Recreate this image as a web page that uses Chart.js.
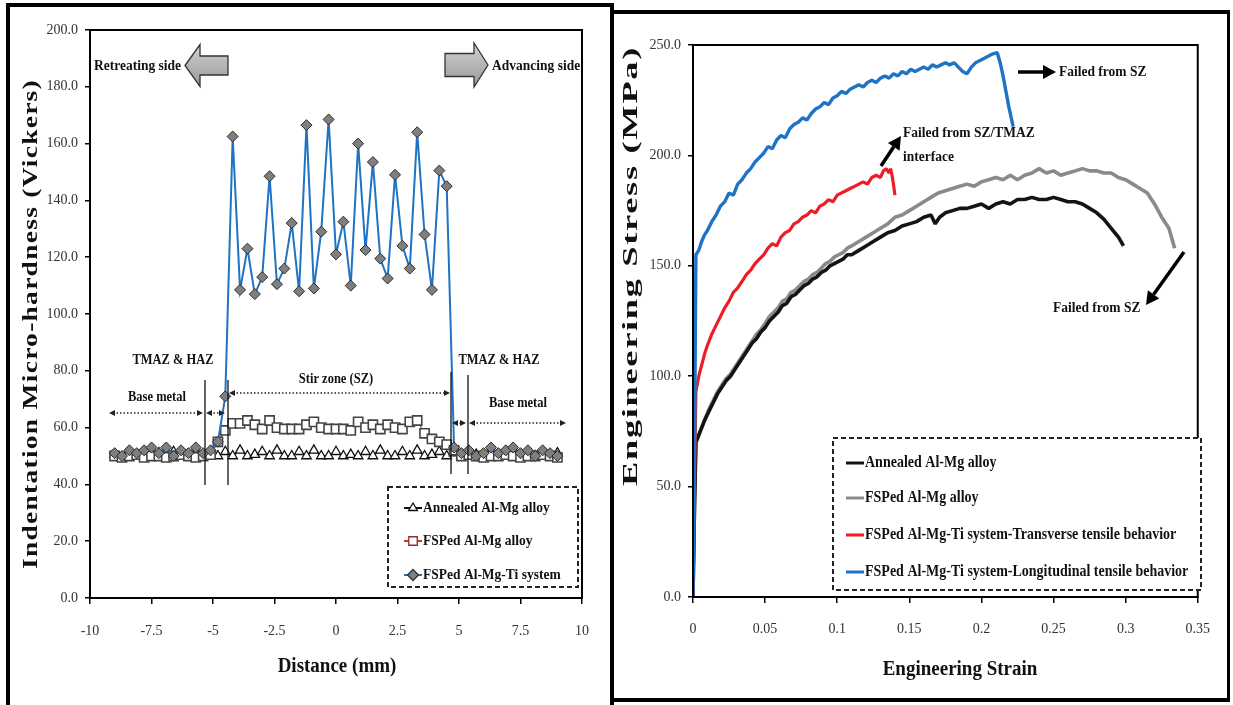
<!DOCTYPE html>
<html>
<head>
<meta charset="utf-8">
<script src="https://cdn.jsdelivr.net/npm/chart.js@4.4.1/dist/chart.umd.min.js"></script>
<style>
  html, body { margin: 0; padding: 0; background: #fff; width: 1233px; height: 705px; overflow: hidden; }
  .frame { position: absolute; box-sizing: border-box; border: 0 solid #000; }
  #frameL { left: 6px; top: 3px; width: 608px; height: 730px; border-left-width: 4px; border-top-width: 4px; border-right-width: 4px; }
  #frameR { left: 614px; top: 10px; width: 616px; height: 692px; border-top-width: 4px; border-bottom-width: 4px; border-right-width: 3px; }
  .box { position: absolute; }
  #boxL { left: 12px; top: 8px; width: 596px; height: 690px; }
  #boxR { left: 616px; top: 14px; width: 612px; height: 684px; }
</style>
</head>
<body>
<div class="frame" id="frameL"></div>
<div class="frame" id="frameR"></div>
<div class="box" id="boxL"><canvas id="hardness-chart"></canvas></div>
<div class="box" id="boxR"><canvas id="tensile-chart"></canvas></div>

<script>
// ------------------------------------------------------------
// Data: micro-hardness profile across the processed zone
// ------------------------------------------------------------
const distance = [-9.0, -8.7, -8.4, -8.1, -7.8, -7.5, -7.2, -6.9, -6.6, -6.3, -6.0, -5.7, -5.4, -5.1,
  -4.8, -4.5, -4.2, -3.9, -3.6, -3.3, -3.0, -2.7, -2.4, -2.1, -1.8, -1.5, -1.2, -0.9, -0.6, -0.3,
  0.0, 0.3, 0.6, 0.9, 1.2, 1.5, 1.8, 2.1, 2.4, 2.7, 3.0, 3.3, 3.6, 3.9, 4.2, 4.5, 4.8,
  5.1, 5.4, 5.7, 6.0, 6.3, 6.6, 6.9, 7.2, 7.5, 7.8, 8.1, 8.4, 8.7, 9.0];

const annealedHardness = [50.5, 49.5, 51, 50, 51.5, 50, 51, 50, 51.5, 50, 50.5, 51, 50, 51,
  50, 51.5, 50, 52, 50, 50.5, 51.5, 50, 52, 50, 50, 51.5, 50, 52, 50, 50, 51.5, 50, 50.5, 50,
  51.5, 50, 52, 50, 50, 51.5, 50, 52, 50, 50.5, 51.5, 50, 51,
  50, 51, 50.5, 50, 51.5, 50, 51, 50.5, 50, 51, 50, 50.5, 50, 51];

const fspHardness = [50, 49.5, 50, 50.5, 49.5, 50, 50, 49.5, 50, 50.5, 50, 49.5, 50, 50.5,
  55, 59, 61.5, 61.5, 62.5, 61, 59.5, 62.5, 60, 59.5, 59.5, 59.5, 61, 62, 60, 59.5, 59.5, 59.5,
  59, 62, 60, 61, 59.5, 61, 60, 59.5, 62, 62.5, 58, 56, 55, 54, 52,
  50, 50.5, 50, 49.5, 50, 50, 50.5, 50, 49.5, 50, 50, 50.5, 50, 49.5];

const tiHardness = [51, 50, 52, 51, 52, 53, 51, 53, 50, 52, 51, 53, 51, 52,
  55, 71, 162.5, 108.5, 123, 107, 113, 148.5, 110.5, 116, 132, 108, 166.5, 109, 129, 168.5,
  121, 132.5, 110, 160, 122.5, 153.5, 119.5, 112.5, 149, 124, 116, 164, 128, 108.5, 150.5, 145, 53,
  51, 52, 50, 51, 53, 51, 52, 53, 51, 52, 50, 52, 51, 50];

const hardnessSeriesNames = ["Annealed Al-Mg alloy", "FSPed Al-Mg alloy", "FSPed Al-Mg-Ti system"];

const distanceTicks = [-10, -7.5, -5, -2.5, 0, 2.5, 5, 7.5, 10];
const distanceTickLabels = ["-10", "-7.5", "-5", "-2.5", "0", "2.5", "5", "7.5", "10"];
const hardnessTicks = [0, 20, 40, 60, 80, 100, 120, 140, 160, 180, 200];
const hardnessTickLabels = ["0.0", "20.0", "40.0", "60.0", "80.0", "100.0", "120.0", "140.0", "160.0", "180.0", "200.0"];

// ------------------------------------------------------------
// Data: engineering stress-strain curves, [strain, stress MPa]
// ------------------------------------------------------------
const longitudinalCurve = [[0, 0], [0.001, 60], [0.002, 155], [0.004, 157], [0.006, 161], [0.008, 164],
  [0.010, 166], [0.013, 170], [0.016, 173], [0.019, 177], [0.022, 179], [0.025, 183], [0.028, 182],
  [0.031, 187], [0.034, 189], [0.037, 192], [0.040, 194], [0.043, 197], [0.046, 199], [0.049, 201],
  [0.052, 204], [0.055, 203], [0.058, 207], [0.061, 209], [0.064, 208], [0.067, 212], [0.070, 214],
  [0.073, 215], [0.076, 217], [0.079, 216], [0.082, 219], [0.085, 221], [0.088, 222], [0.091, 224],
  [0.094, 223], [0.097, 226], [0.100, 227], [0.103, 229], [0.106, 228], [0.109, 230], [0.112, 231],
  [0.115, 232], [0.118, 231], [0.121, 233], [0.124, 234], [0.127, 233], [0.130, 235], [0.133, 236],
  [0.136, 235], [0.139, 237], [0.142, 236], [0.145, 238], [0.148, 237], [0.151, 239], [0.154, 238],
  [0.157, 239], [0.160, 240], [0.163, 239], [0.166, 241], [0.169, 240], [0.172, 241], [0.175, 242],
  [0.178, 241], [0.181, 242], [0.184, 240], [0.187, 238], [0.190, 237], [0.193, 240], [0.196, 242],
  [0.199, 243], [0.202, 244], [0.205, 245], [0.208, 246], [0.211, 246.5], [0.213, 242], [0.215, 236],
  [0.217, 229], [0.219, 222], [0.221, 216], [0.222, 213]];

const transverseCurve = [[0, 0], [0.001, 50], [0.002, 93], [0.004, 100], [0.006, 105], [0.008, 110],
  [0.010, 114], [0.013, 119], [0.016, 123], [0.019, 127], [0.022, 131], [0.025, 134], [0.028, 138],
  [0.031, 140], [0.034, 143], [0.037, 146], [0.040, 148], [0.043, 151], [0.046, 153], [0.049, 155],
  [0.052, 158], [0.055, 160], [0.058, 159], [0.061, 163], [0.064, 165], [0.067, 166], [0.070, 169],
  [0.073, 170], [0.076, 172], [0.079, 173], [0.082, 175], [0.085, 174], [0.088, 177], [0.091, 178],
  [0.094, 180], [0.097, 179], [0.100, 182], [0.103, 183], [0.106, 184], [0.109, 185], [0.112, 186],
  [0.115, 187], [0.118, 188], [0.121, 187], [0.124, 190], [0.127, 191], [0.130, 190], [0.132, 193],
  [0.134, 194], [0.136, 192], [0.137, 194], [0.138, 191], [0.139, 187], [0.140, 182]];

const fspCurve = [[0, 0], [0.001, 40], [0.002, 70], [0.005, 75], [0.008, 80], [0.011, 85], [0.014, 89],
  [0.017, 93], [0.020, 96], [0.023, 99], [0.026, 101], [0.029, 104], [0.032, 107], [0.035, 110],
  [0.038, 113], [0.041, 116], [0.044, 119], [0.047, 121], [0.050, 124], [0.053, 127], [0.056, 129],
  [0.059, 131], [0.062, 134], [0.065, 135], [0.068, 138], [0.071, 139], [0.074, 141], [0.077, 143],
  [0.080, 144], [0.083, 146], [0.086, 147], [0.089, 149], [0.092, 151], [0.095, 152], [0.098, 154],
  [0.101, 155], [0.104, 156], [0.107, 158], [0.110, 159], [0.115, 161], [0.120, 163], [0.125, 165],
  [0.130, 167], [0.135, 169], [0.140, 172], [0.145, 173], [0.150, 175], [0.155, 177], [0.160, 179],
  [0.165, 181], [0.170, 183], [0.175, 184], [0.180, 185], [0.185, 186], [0.190, 187], [0.195, 186],
  [0.200, 188], [0.205, 189], [0.210, 190], [0.215, 189], [0.220, 191], [0.225, 189], [0.230, 191],
  [0.235, 192], [0.240, 194], [0.245, 192], [0.250, 193], [0.255, 191], [0.260, 192], [0.265, 193],
  [0.270, 194], [0.275, 193], [0.280, 193], [0.285, 192], [0.290, 192], [0.295, 190], [0.300, 189],
  [0.305, 187], [0.310, 185], [0.315, 183], [0.320, 178], [0.325, 172], [0.330, 167], [0.334, 158]];

const annealedCurve = [[0, 0], [0.001, 40], [0.002, 70], [0.005, 75], [0.008, 80], [0.011, 84],
  [0.014, 88], [0.017, 92], [0.020, 95], [0.023, 98], [0.026, 100], [0.029, 103], [0.032, 106],
  [0.035, 109], [0.038, 112], [0.041, 115], [0.044, 117], [0.047, 120], [0.050, 122], [0.053, 125],
  [0.056, 127], [0.059, 129], [0.062, 132], [0.065, 133], [0.068, 136], [0.071, 137], [0.074, 139],
  [0.077, 141], [0.080, 142], [0.083, 144], [0.086, 145], [0.089, 147], [0.092, 148], [0.095, 150],
  [0.098, 151], [0.101, 152], [0.104, 153], [0.107, 155], [0.110, 155], [0.115, 157], [0.120, 159],
  [0.125, 161], [0.130, 163], [0.135, 165], [0.140, 166], [0.145, 168], [0.150, 169], [0.155, 170],
  [0.160, 172], [0.165, 173], [0.168, 169], [0.171, 172], [0.175, 174], [0.180, 175], [0.185, 176],
  [0.190, 176], [0.195, 177], [0.200, 178], [0.205, 176], [0.210, 178], [0.215, 179], [0.220, 178],
  [0.225, 180], [0.230, 180], [0.235, 181], [0.240, 180], [0.245, 180], [0.250, 181], [0.255, 180],
  [0.260, 179], [0.265, 179], [0.270, 178], [0.275, 176], [0.280, 174], [0.285, 171], [0.290, 167],
  [0.295, 163], [0.2985, 159]];

const tensileSeriesNames = ["Annealed Al-Mg alloy", "FSPed Al-Mg alloy",
  "FSPed Al-Mg-Ti system-Transverse tensile behavior", "FSPed Al-Mg-Ti system-Longitudinal tensile behavior"];

const strainTicks = [0, 0.05, 0.1, 0.15, 0.2, 0.25, 0.3, 0.35];
const strainTickLabels = ["0", "0.05", "0.1", "0.15", "0.2", "0.25", "0.3", "0.35"];
const stressTicks = [0, 50, 100, 150, 200, 250];
const stressTickLabels = ["0.0", "50.0", "100.0", "150.0", "200.0", "250.0"];

// ------------------------------------------------------------
// Shared style
// ------------------------------------------------------------
const SERIF = '"Liberation Serif", "Times New Roman", serif';
const TICK_COLOR = "#333";
const BLUE = "#1f73c4";

function tickFont() { return { family: SERIF, size: 14 }; }

function toPoints(xs, ys) { return xs.map((x, i) => ({ x: x, y: ys[i] })); }
function pairPoints(list) { return list.map(p => ({ x: p[0], y: p[1] })); }

// ---------- drawing helpers (page coordinates) ----------
function pageCtx(chart) {
  const r = chart.canvas.getBoundingClientRect();
  const ctx = chart.ctx;
  ctx.save();
  ctx.translate(-r.left, -r.top);
  return ctx;
}

function text(ctx, txt, x, y, size, align) {
  ctx.save();
  ctx.translate(x, y);
  ctx.scale(1, 1.15);
  ctx.font = "bold " + size + "px " + SERIF;
  ctx.fillStyle = "#111";
  ctx.textAlign = align || "left";
  ctx.textBaseline = "middle";
  ctx.fillText(txt, 0, 0);
  ctx.restore();
}

// rotated axis title, stretched along its length like the source figure
function verticalTitle(ctx, txt, cx, cy, size, length) {
  ctx.save();
  ctx.translate(cx, cy);
  ctx.rotate(-Math.PI / 2);
  ctx.font = "bold " + size + "px " + SERIF;
  ctx.letterSpacing = "1px";
  const w = ctx.measureText(txt).width;
  ctx.scale(length / w, 1);
  ctx.fillStyle = "#111";
  ctx.textAlign = "center";
  ctx.textBaseline = "middle";
  ctx.fillText(txt, 0, 0);
  ctx.restore();
}

function frame(chart) {
  const a = chart.chartArea, ctx = chart.ctx;
  ctx.save();
  ctx.strokeStyle = "#000";
  ctx.lineWidth = 2;
  ctx.strokeRect(a.left, a.top, a.right - a.left, a.bottom - a.top);
  ctx.restore();
}

function blockArrow(ctx, tipX, tailX, cy, headLen, headH, shaftH) {
  const d = Math.sign(tailX - tipX);
  const hb = tipX + d * headLen;
  ctx.save();
  ctx.beginPath();
  ctx.moveTo(tipX, cy);
  ctx.lineTo(hb, cy - headH);
  ctx.lineTo(hb, cy - shaftH);
  ctx.lineTo(tailX, cy - shaftH);
  ctx.lineTo(tailX, cy + shaftH);
  ctx.lineTo(hb, cy + shaftH);
  ctx.lineTo(hb, cy + headH);
  ctx.closePath();
  const g = ctx.createLinearGradient(0, cy - headH, 0, cy + headH);
  g.addColorStop(0, "#d0d0d0");
  g.addColorStop(1, "#9a9a9a");
  ctx.fillStyle = g;
  ctx.fill();
  ctx.strokeStyle = "#333";
  ctx.lineWidth = 1.3;
  ctx.stroke();
  ctx.restore();
}

function dottedArrow(ctx, x1, x2, y) {
  ctx.save();
  ctx.strokeStyle = "#222";
  ctx.fillStyle = "#222";
  ctx.lineWidth = 1.3;
  ctx.setLineDash([1.5, 2]);
  ctx.beginPath();
  ctx.moveTo(x1 + 4, y);
  ctx.lineTo(x2 - 4, y);
  ctx.stroke();
  ctx.setLineDash([]);
  [[x1, 1], [x2, -1]].forEach(([x, d]) => {
    ctx.beginPath();
    ctx.moveTo(x, y);
    ctx.lineTo(x + d * 6, y - 3);
    ctx.lineTo(x + d * 6, y + 3);
    ctx.closePath();
    ctx.fill();
  });
  ctx.restore();
}

function vline(ctx, x, y1, y2) {
  ctx.save();
  ctx.strokeStyle = "#111";
  ctx.lineWidth = 1.3;
  ctx.beginPath();
  ctx.moveTo(x, y1);
  ctx.lineTo(x, y2);
  ctx.stroke();
  ctx.restore();
}

function boldArrow(ctx, x1, y1, x2, y2) {
  const a = Math.atan2(y2 - y1, x2 - x1), hl = 13, hw = 7;
  const bx = x2 - hl * Math.cos(a), by = y2 - hl * Math.sin(a);
  ctx.save();
  ctx.strokeStyle = "#000";
  ctx.fillStyle = "#000";
  ctx.lineWidth = 3.5;
  ctx.beginPath();
  ctx.moveTo(x1, y1);
  ctx.lineTo(bx, by);
  ctx.stroke();
  ctx.beginPath();
  ctx.moveTo(x2, y2);
  ctx.lineTo(bx + hw * Math.sin(a), by - hw * Math.cos(a));
  ctx.lineTo(bx - hw * Math.sin(a), by + hw * Math.cos(a));
  ctx.closePath();
  ctx.fill();
  ctx.restore();
}

function dashedBox(ctx, x1, y1, x2, y2) {
  ctx.save();
  ctx.fillStyle = "#fff";
  ctx.fillRect(x1, y1, x2 - x1, y2 - y1);
  ctx.strokeStyle = "#222";
  ctx.lineWidth = 2;
  ctx.setLineDash([5, 3]);
  ctx.strokeRect(x1, y1, x2 - x1, y2 - y1);
  ctx.restore();
}

function legendLine(ctx, x1, x2, y, color, width) {
  ctx.save();
  ctx.strokeStyle = color;
  ctx.lineWidth = width;
  ctx.beginPath();
  ctx.moveTo(x1, y);
  ctx.lineTo(x2, y);
  ctx.stroke();
  ctx.restore();
}

function legendMarker(ctx, style, radius, fill, stroke, x, y) {
  ctx.save();
  ctx.fillStyle = fill;
  ctx.strokeStyle = stroke;
  ctx.lineWidth = 1.3;
  Chart.helpers.drawPoint(ctx, { pointStyle: style, radius: radius, rotation: 0, borderWidth: 1.3 }, x, y);
  ctx.restore();
}

// ------------------------------------------------------------
// Chart 1: micro-hardness profile
// ------------------------------------------------------------
const hardnessDecor = {
  id: "hardnessDecor",
  afterDraw(chart) {
    frame(chart);
    const ctx = pageCtx(chart);

    verticalTitle(ctx, "Indentation Micro-hardness (Vickers)", 31, 324, 22, 490);
    text(ctx, "Distance (mm)", 337, 666, 19, "center");

    text(ctx, "Retreating side", 94, 66, 13.5, "left");
    blockArrow(ctx, 185, 228, 65.5, 15, 21, 9.5);
    blockArrow(ctx, 488, 445, 65, 14, 22, 11.5);
    text(ctx, "Advancing side", 492, 66, 13.5, "left");

    text(ctx, "TMAZ & HAZ", 173, 360, 12.5, "center");
    text(ctx, "TMAZ & HAZ", 499, 360, 12.5, "center");
    text(ctx, "Stir zone (SZ)", 336, 379, 12.5, "center");
    text(ctx, "Base metal", 157, 397, 12.5, "center");
    text(ctx, "Base metal", 518, 403, 12.5, "center");

    vline(ctx, 205, 380, 485);
    vline(ctx, 228, 380, 485);
    vline(ctx, 451, 372, 474);
    vline(ctx, 468, 375, 474);

    dottedArrow(ctx, 109, 203, 413);
    dottedArrow(ctx, 206, 225, 413);
    dottedArrow(ctx, 229, 450, 393);
    dottedArrow(ctx, 452, 466, 423);
    dottedArrow(ctx, 469, 566, 423);

    dashedBox(ctx, 388, 487, 578, 587);
    const rows = [508, 541, 575];
    legendLine(ctx, 404, 422, rows[0], "#111", 2);
    legendMarker(ctx, "triangle", 5, "#fff", "#111", 413, rows[0]);
    legendLine(ctx, 404, 422, rows[1], "#d9302c", 2);
    legendMarker(ctx, "rect", 6, "#fff", "#8a3030", 413, rows[1]);
    legendLine(ctx, 404, 422, rows[2], BLUE, 2);
    legendMarker(ctx, "rectRot", 5.5, "#7f7f7f", "#333", 413, rows[2]);
    hardnessSeriesNames.forEach((n, i) => text(ctx, n, 423, rows[i], 13.5, "left"));

    ctx.restore();
  }
};

new Chart(document.getElementById("hardness-chart"), {
  type: "line",
  data: {
    datasets: [
      {
        label: hardnessSeriesNames[2],
        data: toPoints(distance, tiHardness),
        borderColor: BLUE, borderWidth: 2,
        pointStyle: "rectRot", pointRadius: 5.5,
        pointBackgroundColor: "#7f7f7f", pointBorderColor: "#2a2a2a", pointBorderWidth: 1,
      },
      {
        label: hardnessSeriesNames[1],
        data: toPoints(distance, fspHardness),
        borderColor: "#666", borderWidth: 1.2,
        pointStyle: "rect", pointRadius: 6.5,
        pointBackgroundColor: "#fff", pointBorderColor: "#444", pointBorderWidth: 1.6,
      },
      {
        label: hardnessSeriesNames[0],
        data: toPoints(distance, annealedHardness),
        borderColor: "#222", borderWidth: 1.2,
        pointStyle: "triangle", pointRadius: 5.5,
        pointBackgroundColor: "#fff", pointBorderColor: "#111", pointBorderWidth: 1.3,
      },
    ],
  },
  options: {
    responsive: true,
    maintainAspectRatio: false,
    animation: false,
    layout: { padding: { top: 22, right: 22, left: 0, bottom: 0 } },
    elements: { line: { tension: 0 } },
    plugins: { legend: { display: false }, tooltip: { enabled: false } },
    scales: {
      x: {
        type: "linear", min: -10, max: 10,
        afterBuildTicks: s => { s.ticks = distanceTicks.map(v => ({ value: v })); },
        afterFit: s => { s.height = 100; },
        ticks: { callback: (v, i) => distanceTickLabels[i], font: tickFont(), color: TICK_COLOR,
                 padding: 19, maxRotation: 0, autoSkip: false },
        grid: { drawOnChartArea: false, color: "#000", tickLength: 6, lineWidth: 1.5 },
        border: { color: "#000", width: 2 },
      },
      y: {
        min: 0, max: 200,
        afterBuildTicks: s => { s.ticks = hardnessTicks.map(v => ({ value: v })); },
        afterFit: s => { s.width = 78; },
        ticks: { callback: (v, i) => hardnessTickLabels[i], font: tickFont(), color: TICK_COLOR, padding: 7 },
        grid: { drawOnChartArea: false, color: "#000", tickLength: 5, lineWidth: 1.5 },
        border: { color: "#000", width: 2 },
      },
    },
  },
  plugins: [hardnessDecor],
});

// ------------------------------------------------------------
// Chart 2: engineering stress-strain curves
// ------------------------------------------------------------
const tensileColors = ["#141414", "#8a8a8a", "#ee1c25", BLUE];

const tensileDecor = {
  id: "tensileDecor",
  afterDraw(chart) {
    frame(chart);
    const ctx = pageCtx(chart);

    verticalTitle(ctx, "Engineering Stress (MPa)", 631, 266, 22, 440);
    text(ctx, "Engineering Strain", 960, 669, 19, "center");

    boldArrow(ctx, 1018, 72, 1056, 72);
    text(ctx, "Failed from SZ", 1059, 72, 13.5, "left");
    boldArrow(ctx, 881, 166, 901, 136);
    text(ctx, "Failed from SZ/TMAZ", 903, 133, 13.5, "left");
    text(ctx, "interface", 903, 157, 13.5, "left");
    boldArrow(ctx, 1184, 252, 1146, 305);
    text(ctx, "Failed from SZ", 1053, 308, 13.5, "left");

    dashedBox(ctx, 833, 438, 1201, 590);
    const rows = [463, 498, 535, 572];
    tensileSeriesNames.forEach((n, i) => {
      legendLine(ctx, 846, 864, rows[i], tensileColors[i], 3);
      text(ctx, n, 865, rows[i], 14, "left");
    });

    ctx.restore();
  }
};

new Chart(document.getElementById("tensile-chart"), {
  type: "line",
  data: {
    datasets: [
      { label: tensileSeriesNames[3], data: pairPoints(longitudinalCurve), borderColor: tensileColors[3], borderWidth: 3.4 },
      { label: tensileSeriesNames[2], data: pairPoints(transverseCurve), borderColor: tensileColors[2], borderWidth: 3.2 },
      { label: tensileSeriesNames[0], data: pairPoints(annealedCurve), borderColor: tensileColors[0], borderWidth: 3.6 },
      { label: tensileSeriesNames[1], data: pairPoints(fspCurve), borderColor: tensileColors[1], borderWidth: 3.6 },
    ],
  },
  options: {
    responsive: true,
    maintainAspectRatio: false,
    animation: false,
    layout: { padding: { top: 31, right: 23, left: 0, bottom: 0 } },
    elements: { line: { tension: 0, borderJoinStyle: "bevel" }, point: { radius: 0 } },
    plugins: { legend: { display: false }, tooltip: { enabled: false } },
    scales: {
      x: {
        type: "linear", min: 0, max: 0.35,
        afterBuildTicks: s => { s.ticks = strainTicks.map(v => ({ value: v })); },
        afterFit: s => { s.height = 101; },
        ticks: { callback: (v, i) => strainTickLabels[i], font: tickFont(), color: TICK_COLOR,
                 padding: 18, maxRotation: 0, autoSkip: false },
        grid: { drawOnChartArea: false, color: "#000", tickLength: 6, lineWidth: 1.5 },
        border: { color: "#000", width: 2 },
      },
      y: {
        min: 0, max: 250,
        afterBuildTicks: s => { s.ticks = stressTicks.map(v => ({ value: v })); },
        afterFit: s => { s.width = 77; },
        ticks: { callback: (v, i) => stressTickLabels[i], font: tickFont(), color: TICK_COLOR, padding: 7 },
        grid: { drawOnChartArea: false, color: "#000", tickLength: 5, lineWidth: 1.5 },
        border: { color: "#000", width: 2 },
      },
    },
  },
  plugins: [tensileDecor],
});
</script>
</body>
</html>
